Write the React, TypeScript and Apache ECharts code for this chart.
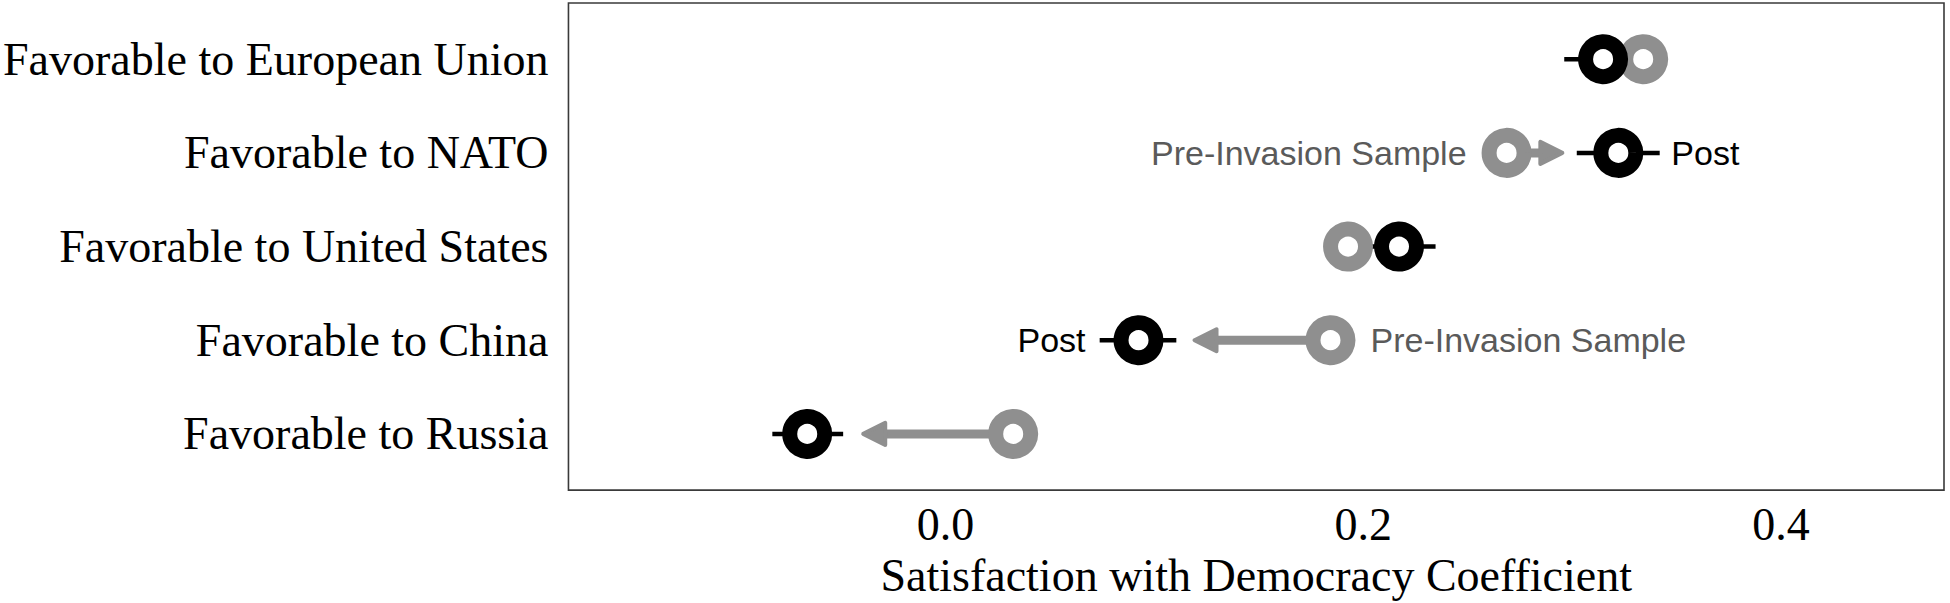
import React, { useEffect, useRef } from "react";
import * as echarts from "echarts";

const categories = [
  "Favorable to European Union",
  "Favorable to NATO",
  "Favorable to United States",
  "Favorable to China",
  "Favorable to Russia",
];
const preValues = [0.334, 0.2686, 0.1927, 0.1843, 0.0324];
const postValues = [0.3148, 0.3221, 0.2171, 0.0924, -0.0662];
const postLow = [0.2962, 0.3022, 0.1998, 0.0738, -0.0829];
const postHigh = [0.333, 0.3419, 0.2346, 0.1105, -0.049];
const preLabels = ["", "Pre-Invasion Sample", "", "Pre-Invasion Sample", ""];
const postLabels = ["", "Post", "", "Post", ""];
const xTicks = [0, 0.2, 0.4];

const GRAY = "#8f8f8f";
const LABEL_GRAY = "#5a5a5a";
const SERIF = "Liberation Serif, Times New Roman, serif";
const SANS = "Liberation Sans, Arial, sans-serif";

export default function App() {
  const ref = useRef<HTMLDivElement>(null);
  useEffect(() => {
    document.body.style.margin = "0";
    document.body.style.overflow = "hidden";
    if (!ref.current) return;
    const chart = echarts.init(ref.current, null, { renderer: "svg" });
    const idx = categories.map((_, i) => i);

    const arrowData = idx.map((i) => [preValues[i], postValues[i], i]);
    const barData = idx.map((i) => [postLow[i], postHigh[i], i]);
    const labelData = idx.map((i) => [preValues[i], postValues[i], i]);

    chart.setOption({
      animation: false,
      grid: {
        left: 561,
        right: 6,
        top: 3,
        bottom: 112,
        show: true,
        borderColor: "#3a3a3a",
        borderWidth: 1.6,
        backgroundColor: "transparent",
      },
      xAxis: {
        type: "value",
        min: -0.1805,
        max: 0.478,
        name: "Satisfaction with Democracy Coefficient",
        nameLocation: "middle",
        nameGap: 60,
        nameTextStyle: { fontFamily: SERIF, fontSize: 46, color: "#000" },
        axisLine: { show: false },
        axisTick: { show: false },
        splitLine: { show: false },
        axisLabel: {
          customValues: xTicks,
          formatter: (v: number) => v.toFixed(1),
          fontFamily: SERIF,
          fontSize: 46,
          color: "#000",
          margin: 11,
        },
      },
      yAxis: {
        type: "value",
        min: -0.6,
        max: 4.6,
        inverse: true,
        axisLine: { show: false },
        axisTick: { show: false },
        splitLine: { show: false },
        axisLabel: {
          customValues: idx,
          formatter: (v: number) => categories[Math.round(v)] ?? "",
          fontFamily: SERIF,
          fontSize: 46,
          color: "#000",
          margin: 20,
        },
      },
      series: [
        {
          type: "custom",
          name: "arrows",
          data: arrowData,
          renderItem: (params: any, api: any) => {
            const pre = api.value(0);
            const post = api.value(1);
            const row = api.value(2);
            const p0 = api.coord([pre, row]);
            const p1 = api.coord([post, row]);
            const dir = p1[0] >= p0[0] ? 1 : -1;
            const tipX = p1[0] - dir * 54;
            const len = (tipX - p0[0]) * dir;
            if (len <= 2) return null;
            const headLen = 24;
            const headH = 26;
            const y = p0[1];
            const baseX = tipX - dir * headLen;
            return {
              type: "group",
              children: [
                {
                  type: "line",
                  shape: { x1: p0[0], y1: y, x2: baseX + dir * 4, y2: y },
                  style: { stroke: GRAY, lineWidth: 9, lineCap: "butt" },
                },
                {
                  type: "polygon",
                  shape: {
                    points: [
                      [tipX - dir * 2, y],
                      [baseX, y - headH / 2 + 2],
                      [baseX, y + headH / 2 - 2],
                    ],
                  },
                  style: {
                    fill: GRAY,
                    stroke: GRAY,
                    lineWidth: 4,
                    lineJoin: "round",
                  },
                },
              ],
            };
          },
          z: 1,
        },
        {
          type: "custom",
          name: "ci",
          data: barData,
          renderItem: (params: any, api: any) => {
            const a = api.coord([api.value(0), api.value(2)]);
            const b = api.coord([api.value(1), api.value(2)]);
            return {
              type: "line",
              shape: { x1: a[0], y1: a[1], x2: b[0], y2: b[1] },
              style: { stroke: "#000", lineWidth: 4.5 },
            };
          },
          z: 2,
        },
        {
          type: "scatter",
          name: "Pre-Invasion Sample",
          data: idx.map((i) => [preValues[i], i]),
          symbol: "circle",
          symbolSize: 35,
          itemStyle: { color: "#fff", borderColor: GRAY, borderWidth: 15, opacity: 1 },
          z: 3,
        },
        {
          type: "scatter",
          name: "Post",
          data: idx.map((i) => [postValues[i], i]),
          symbol: "circle",
          symbolSize: 35,
          itemStyle: { color: "#fff", borderColor: "#000", borderWidth: 15, opacity: 1 },
          z: 4,
        },
        {
          type: "custom",
          name: "labels",
          data: labelData,
          renderItem: (params: any, api: any) => {
            const i = params.dataIndex;
            const row = api.value(2);
            const p0 = api.coord([api.value(0), row]);
            const p1 = api.coord([api.value(1), row]);
            const dir = p1[0] >= p0[0] ? 1 : -1;
            const children: any[] = [];
            if (preLabels[i]) {
              children.push({
                type: "text",
                x: p0[0] - dir * 40,
                y: p0[1],
                style: {
                  text: preLabels[i],
                  fill: LABEL_GRAY,
                  font: `34px ${SANS}`,
                  align: dir > 0 ? "right" : "left",
                  verticalAlign: "middle",
                },
              });
            }
            if (postLabels[i]) {
              children.push({
                type: "text",
                x: p1[0] + dir * 53,
                y: p1[1],
                style: {
                  text: postLabels[i],
                  fill: "#000",
                  font: `34px ${SANS}`,
                  align: dir > 0 ? "left" : "right",
                  verticalAlign: "middle",
                },
              });
            }
            return { type: "group", children };
          },
          z: 5,
        },
      ],
    });
    return () => chart.dispose();
  }, []);

  return <div ref={ref} style={{ width: 1950, height: 603, background: "#fff" }} />;
}
